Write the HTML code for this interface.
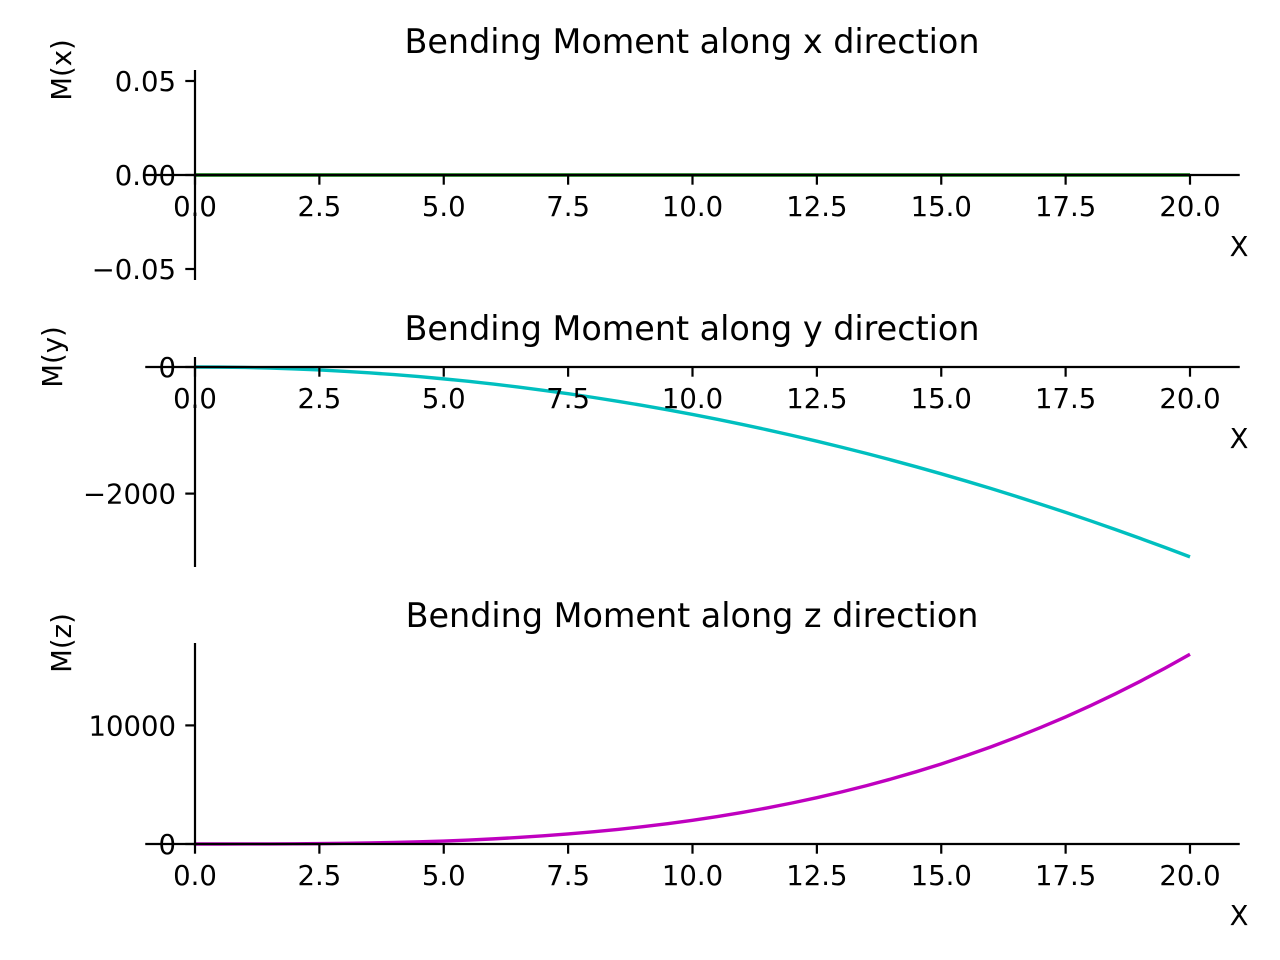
<!DOCTYPE html>
<html><head><meta charset="utf-8"><style>
html,body{margin:0;padding:0;background:#fff;}
svg{display:block;font-family:"DejaVu Sans","Liberation Sans",sans-serif;}
</style></head><body>
<svg id="chart" width="1280" height="960" viewBox="0 0 1280 960" xmlns="http://www.w3.org/2000/svg"></svg>
<script>
const xs = [0,0.5,1,1.5,2,2.5,3,3.5,4,4.5,5,5.5,6,6.5,7,7.5,8,8.5,9,9.5,10,10.5,11,11.5,12,12.5,13,13.5,14,14.5,15,15.5,16,16.5,17,17.5,18,18.5,19,19.5,20];
const mxValues = [0,0,0,0,0,0,0,0,0,0,0,0,0,0,0,0,0,0,0,0,0,0,0,0,0,0,0,0,0,0,0,0,0,0,0,0,0,0,0,0,0];
const myValues = [0,-1.875,-7.5,-16.875,-30,-46.875,-67.5,-91.875,-120,-151.875,-187.5,-226.875,-270,-316.875,-367.5,-421.875,-480,-541.875,-607.5,-676.875,-750,-826.875,-907.5,-991.875,-1080,-1171.875,-1267.5,-1366.875,-1470,-1576.875,-1687.5,-1801.875,-1920,-2041.875,-2167.5,-2296.875,-2430,-2566.875,-2707.5,-2851.875,-3000];
const mzValues = [0,0.25,2,6.75,16,31.25,54,85.75,128,182.25,250,332.75,432,549.25,686,843.75,1024,1228.25,1458,1714.75,2000,2315.25,2662,3041.75,3456,3906.25,4394,4920.75,5488,6097.25,6750,7447.75,8192,8984.25,9826,10718.75,11664,12663.25,13718,14829.75,16000];
const xTicks = [0,2.5,5,7.5,10,12.5,15,17.5,20];
const xTickLabels = ["0.0","2.5","5.0","7.5","10.0","12.5","15.0","17.5","20.0"];
const mxTicks = [-0.05,0,0.05];
const mxTickLabels = ["\u22120.05","0.00","0.05"];
const myTicks = [-2000,0];
const myTickLabels = ["\u22122000","0"];
const mzTicks = [0,10000];
const mzTickLabels = ["0","10000"];

const NS = "http://www.w3.org/2000/svg";
const svg = document.getElementById("chart");
function mk(tag, attrs, parent){
  const e = document.createElementNS(NS, tag);
  for (const k in attrs) e.setAttribute(k, attrs[k]);
  (parent||svg).appendChild(e);
  return e;
}
const X0 = 195, XS = 49.75;
function xScale(v){ return X0 + v*XS; }

const panels = [
  {key:"x", title:"Bending Moment along x direction", ylabel:"M(x)", vals:mxValues, ticks:mxTicks, labels:mxTickLabels,
   y0:175, ys:1880, top:70, bot:280, color:"#008000", ylx:62, yly:70},
  {key:"y", title:"Bending Moment along y direction", ylabel:"M(y)", vals:myValues, ticks:myTicks, labels:myTickLabels,
   y0:367, ys:0.0633, top:357, bot:567, color:"#00bfbf", ylx:53, yly:357},
  {key:"z", title:"Bending Moment along z direction", ylabel:"M(z)", vals:mzValues, ticks:mzTicks, labels:mzTickLabels,
   y0:844, ys:0.01186, top:643, bot:846, color:"#bf00bf", ylx:62, yly:643}
];
const titleY = [53, 340, 627];

panels.forEach((p, i) => {
  const g = mk("g", {});
  
  
  const yScale = v => p.y0 - v*p.ys;

  const t = mk("text", {x:692, y:titleY[i], "text-anchor":"middle", "font-size":"33.4", fill:"#000"}, g);
  t.textContent = p.title;
  
  

  const d = xs.map((x, j) => (j ? "L" : "M") + xScale(x).toFixed(2) + "," + yScale(p.vals[j]).toFixed(2)).join(" ");
  const path = mk("path", {d:d, fill:"none", stroke:p.color, "stroke-width":"3.4", "stroke-linejoin":"round"}, g);
  
  

  const xs1 = mk("line", {x1:xScale(-1), x2:xScale(21), y1:p.y0, y2:p.y0, stroke:"#000", "stroke-width":"2.2"}, g);
  
  
  const ys1 = mk("line", {x1:X0, x2:X0, y1:p.top, y2:p.bot, stroke:"#000", "stroke-width":"2.2"}, g);
  
  

  xTicks.forEach((v, j) => {
    const tx = xScale(v);
    const tk = mk("line", {x1:tx, x2:tx, y1:p.y0, y2:p.y0+9.7, stroke:"#000", "stroke-width":"2.2"}, g);
    
    
    const tl = mk("text", {x:tx, y:p.y0+41, "text-anchor":"middle", "font-size":"27.5", fill:"#000"}, g);
    tl.textContent = xTickLabels[j];
    
    
  });
  p.ticks.forEach((v, j) => {
    const ty = yScale(v);
    const tk = mk("line", {x1:X0-9.7, x2:X0, y1:ty, y2:ty, stroke:"#000", "stroke-width":"2.2"}, g);
    
    
    const tl = mk("text", {x:X0-19, y:ty+10, "text-anchor":"end", "font-size":"27.5", fill:"#000"}, g);
    tl.textContent = p.labels[j];
    
    
  });
  const xl = mk("text", {x:1239, y:p.y0+81, "text-anchor":"middle", "font-size":"27.5", fill:"#000"}, g);
  xl.textContent = "X";
  
  
  const yl = mk("text", {x:0, y:0, "text-anchor":"middle", "font-size":"27.5", fill:"#000",
    transform:"translate(" + (p.ylx+9) + "," + p.yly + ") rotate(-90)"}, g);
  yl.textContent = p.ylabel;
  
  
});
</script>
</body></html>
